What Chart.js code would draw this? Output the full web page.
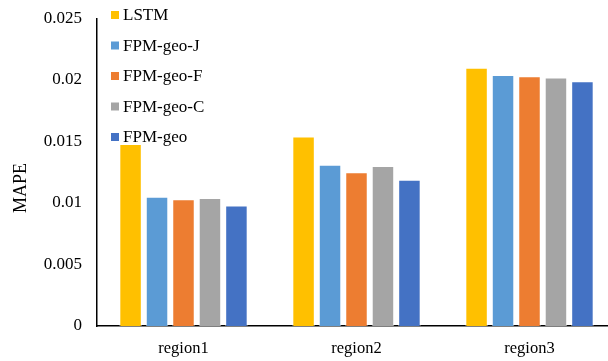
<!DOCTYPE html>
<html>
<head>
<meta charset="utf-8">
<script src="https://cdn.jsdelivr.net/npm/chart.js@4/dist/chart.umd.min.js"></script>
<style>
  html, body { margin: 0; padding: 0; background: #fff; overflow: hidden; }
  #wrap { width: 616px; height: 361px; }
</style>
</head>
<body>
<div id="wrap"><canvas id="c" width="616" height="361"></canvas></div>
<script>
// Regions on the x axis
const regions = ['region1', 'region2', 'region3'];

// MAPE per model, one value per region
const lstm    = [0.0148, 0.0154, 0.0210];
const fpmGeoJ = [0.0105, 0.0131, 0.0204];
const fpmGeoF = [0.0103, 0.0125, 0.0203];
const fpmGeoC = [0.0104, 0.0130, 0.0202];
const fpmGeo  = [0.0098, 0.0119, 0.0199];

const seriesNames  = ['LSTM', 'FPM-geo-J', 'FPM-geo-F', 'FPM-geo-C', 'FPM-geo'];
const seriesColors = ['#FFC000', '#5B9BD5', '#ED7D31', '#A5A5A5', '#4472C4'];

// Y axis tick labels
const yTickValues = [0, 0.005, 0.01, 0.015, 0.02, 0.025];
const yTickLabels = ['0', '0.005', '0.01', '0.015', '0.02', '0.025'];
const yTitle = 'MAPE';

const serif = "'Liberation Serif', 'Times New Roman', serif";

const seriesData = [lstm, fpmGeoJ, fpmGeoF, fpmGeoC, fpmGeo];

// Vertical legend inside the plot near the top-left, plus the rotated y title
const extras = {
  id: 'extras',
  afterDraw(chart) {
    const ctx = chart.ctx;
    ctx.save();
    ctx.font = '17px ' + serif;
    ctx.textBaseline = 'middle';
    ctx.textAlign = 'left';
    chart.data.datasets.forEach((ds, i) => {
      const cy = 15 + i * 30.5;
      ctx.fillStyle = ds.backgroundColor;
      ctx.fillRect(111, cy - 4, 8, 8);
      ctx.fillStyle = '#000';
      ctx.fillText(ds.label, 123, cy + 1);
    });

    ctx.translate(21, 188);
    ctx.rotate(-Math.PI / 2);
    ctx.textAlign = 'center';
    ctx.font = '18px ' + serif;
    ctx.fillText(yTitle, 0, 0);
    ctx.restore();
  }
};

new Chart(document.getElementById('c'), {
  type: 'bar',
  data: {
    labels: regions,
    datasets: seriesNames.map((name, i) => ({
      label: name,
      data: seriesData[i],
      backgroundColor: seriesColors[i],
      borderColor: 'rgba(255,255,255,0.6)',
      borderWidth: 1,
      categoryPercentage: 0.765,
      barPercentage: 0.85
    }))
  },
  options: {
    responsive: false,
    animation: false,
    devicePixelRatio: 1,
    layout: { padding: { top: 18.5, right: 0, left: 0, bottom: 0 } },
    plugins: {
      legend: { display: false },
      tooltip: { enabled: false }
    },
    scales: {
      x: {
        grid: { display: false, drawTicks: false },
        border: { display: true, color: '#000', width: 1.5 },
        ticks: { color: '#000', font: { family: serif, size: 16.5 }, padding: 13 },
        afterFit(scale) {
          scale.height = 35;
          scale.paddingLeft = 0;
          scale.paddingRight = 0;
        }
      },
      y: {
        min: 0,
        max: 0.025,
        afterBuildTicks(scale) { scale.ticks = yTickValues.map(v => ({ value: v })); },
        grid: { display: false, drawTicks: false },
        border: { display: true, color: '#000', width: 1.5 },
        ticks: {
          color: '#000',
          font: { family: serif, size: 17 },
          padding: 15,
          callback(value) {
            const idx = yTickValues.findIndex(v => Math.abs(v - value) < 1e-9);
            return idx >= 0 ? yTickLabels[idx] : '';
          }
        },
        afterFit(scale) {
          scale.width = 97;
          scale.paddingTop = 0;
          scale.paddingBottom = 0;
        }
      }
    }
  },
  plugins: [extras]
});
</script>
</body>
</html>
